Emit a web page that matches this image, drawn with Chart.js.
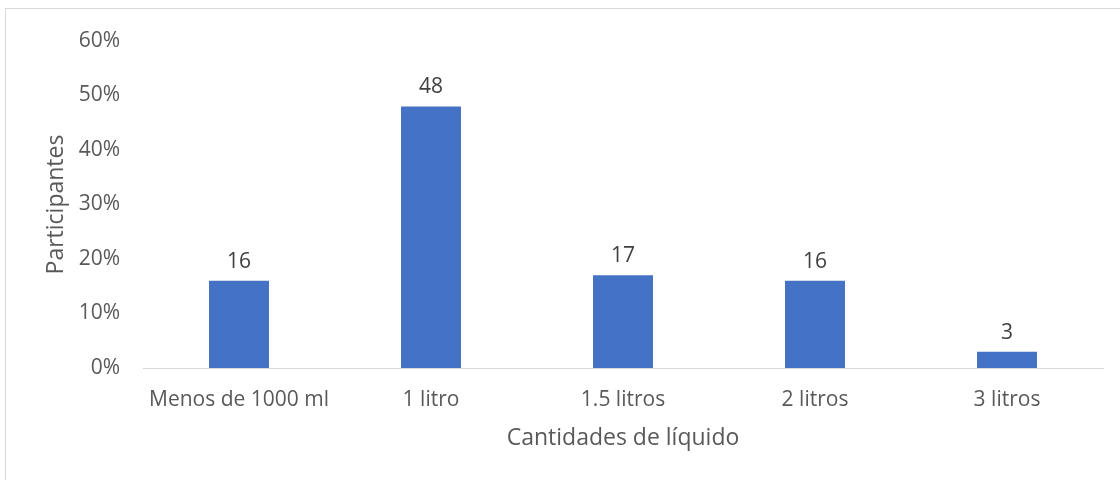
<!DOCTYPE html>
<html>
<head>
<meta charset="utf-8">
<script src="https://cdn.jsdelivr.net/npm/chart.js@4.4.1/dist/chart.umd.min.js"></script>
<style>
  html, body { margin: 0; padding: 0; background: #ffffff; }
  #wrap { position: relative; width: 1120px; height: 480px; overflow: hidden; }
  #frame { position: absolute; left: 5px; top: 8px; width: 1200px; height: 600px; border: 1px solid #d9d9d9; box-sizing: border-box; }
  canvas { position: absolute; left: 0; top: 0; }
</style>
</head>
<body>
<div id="wrap">
  <div id="frame"></div>
  <canvas id="c" width="1120" height="480"></canvas>
</div>
<script>
const categories = ["Menos de 1000 ml", "1 litro", "1.5 litros", "2 litros", "3 litros"];
const participantes = [16, 48, 17, 16, 3];
const yTicks = [0, 10, 20, 30, 40, 50, 60];
const xTitle = "Cantidades de líquido";
const yTitle = "Participantes";

const FONT = "'Open Sans', 'DejaVu Sans', sans-serif";

const valueLabels = {
  id: 'valueLabels',
  afterDatasetsDraw(chart) {
    const ctx = chart.ctx;
    const meta = chart.getDatasetMeta(0);
    ctx.save();
    ctx.font = "21px " + FONT;
    ctx.fillStyle = "#404040";
    ctx.textAlign = "center";
    ctx.textBaseline = "alphabetic";
    meta.data.forEach((bar, i) => {
      ctx.fillText(String(participantes[i]), bar.x, bar.y - 13);
    });
    ctx.restore();
  }
};

new Chart(document.getElementById('c'), {
  type: 'bar',
  data: {
    labels: categories,
    datasets: [{
      data: participantes,
      backgroundColor: '#4472c4',
      borderWidth: 0,
      categoryPercentage: 1,
      barPercentage: 0.3125
    }]
  },
  options: {
    responsive: false,
    animation: false,
    devicePixelRatio: 1,
    layout: { padding: { top: 41, right: 17, bottom: 0, left: 0 } },
    plugins: { legend: { display: false }, tooltip: { enabled: false } },
    scales: {
      x: {
        grid: { display: false, drawTicks: false },
        border: { display: true, color: '#d9d9d9', width: 1 },
        ticks: { color: '#595959', font: { family: FONT, size: 21 }, padding: 19, maxRotation: 0 },
        title: { display: true, text: xTitle, color: '#595959', font: { family: FONT, size: 23 }, padding: { top: 0, bottom: 28 } },
        afterFit(scale) { scale.height = 112; scale.paddingLeft = 0; scale.paddingRight = 0; }
      },
      y: {
        min: 0, max: 60,
        afterBuildTicks(scale) { scale.ticks = yTicks.map(v => ({ value: v })); },
        grid: { display: false, drawTicks: false },
        border: { display: false },
        ticks: { color: '#595959', font: { family: FONT, size: 21 }, padding: 23, callback: v => v + '%' },
        title: { display: true, text: yTitle, color: '#595959', font: { family: FONT, size: 23 }, padding: { top: 43, bottom: 0 } },
        afterFit(scale) { scale.width = 143; scale.paddingTop = 0; scale.paddingBottom = 0; }
      }
    }
  },
  plugins: [valueLabels]
});
</script>
</body>
</html>
